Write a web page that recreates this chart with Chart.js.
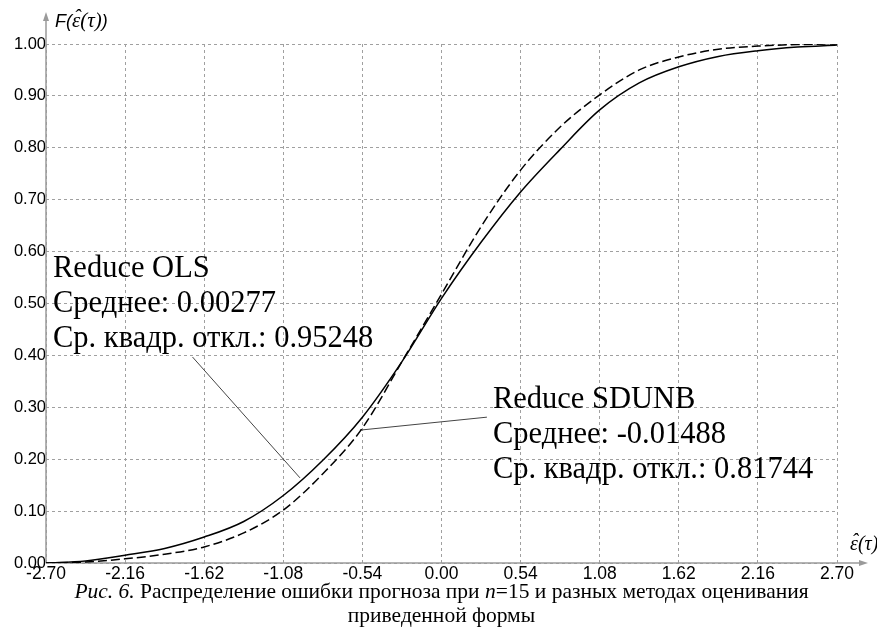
<!DOCTYPE html>
<html>
<head>
<meta charset="utf-8">
<script src="https://cdn.jsdelivr.net/npm/chart.js@4.4.1/dist/chart.umd.min.js"></script>
<style>
    html, body { margin: 0; padding: 0; background: #fff; }
    #wrap { width: 877px; height: 639px; position: relative; }
</style>
</head>
<body>
<div id="wrap"><canvas id="cdf_chart"></canvas></div>
<script>
// values
const xPoints = [-2.70, -2.43, -2.16, -1.89, -1.62, -1.35, -1.08, -0.81, -0.54, -0.27, 0.00,
                 0.27, 0.54, 0.81, 1.08, 1.35, 1.62, 1.89, 2.16, 2.43, 2.70];
const olsF   = [0.000, 0.004, 0.015, 0.028, 0.050, 0.080, 0.130, 0.198, 0.281, 0.388, 0.510,
                0.618, 0.715, 0.797, 0.873, 0.925, 0.956, 0.976, 0.987, 0.994, 0.998];
const sdunbF = [0.000, 0.002, 0.008, 0.017, 0.031, 0.058, 0.102, 0.172, 0.260, 0.388, 0.518,
                0.648, 0.757, 0.840, 0.902, 0.950, 0.975, 0.990, 0.996, 0.999, 1.000];

const xTicks = [-2.70, -2.16, -1.62, -1.08, -0.54, 0.00, 0.54, 1.08, 1.62, 2.16, 2.70];
const yTicks = [0.0, 0.1, 0.2, 0.3, 0.4, 0.5, 0.6, 0.7, 0.8, 0.9, 1.0];

// leader lines: label -> curve
const olsLeaderX = [-1.70, -0.966];
const olsLeaderY = [0.397, 0.164];
const sdunbLeaderX = [-0.557, 0.310];
const sdunbLeaderY = [0.256, 0.281];

// notes (text + anchor of first baseline, in data units)
const olsNote = ['Reduce OLS', 'Среднее: 0.00277', 'Ср. квадр. откл.: 0.95248'];
const olsNoteAt = [-2.652, 0.551];
const sdunbNote = ['Reduce SDUNB', 'Среднее: -0.01488', 'Ср. квадр. откл.: 0.81744'];
const sdunbNoteAt = [0.351, 0.299];

const caption1 = [['Рис. 6.', 'italic'], [' Распределение ошибки прогноза при ', ''], ['n', 'italic'], ['=15 и разных методах оценивания', '']];
const caption2 = 'приведенной формы';

function pts(xs, ys) {
    return xs.map(function (x, i) { return { x: x, y: ys[i] }; });
}

const AXIS = '#9a9a9a';
const SERIF = "'Liberation Serif', 'Times New Roman', serif";
const SANS = "'Liberation Sans', Arial, sans-serif";

// draws "ε̂(τ)" with a hat put on by hand, returns end x
function epsHat(c, x, y, size) {
    c.font = 'italic ' + size + 'px ' + SERIF;
    c.fillText('ε', x, y);
    let w = c.measureText('ε').width;
    let hw = c.measureText('ˆ').width;
    c.fillText('ˆ', x + w / 2 - hw / 2 + 1, y - size * 0.12);
    c.fillText('(τ)', x + w, y);
    return x + w + c.measureText('(τ)').width;
}

const decor = {
    id: 'decor',
    beforeDatasetsDraw(chart) {
        const ctx = chart.ctx;
        const a = chart.chartArea;
        const x0 = a.left, y0 = a.bottom;
        ctx.save();
        ctx.strokeStyle = AXIS;
        ctx.fillStyle = AXIS;
        ctx.lineWidth = 1.5;
        // y axis + arrow
        ctx.beginPath();
        ctx.moveTo(x0, y0);
        ctx.lineTo(x0, 18);
        ctx.stroke();
        ctx.beginPath();
        ctx.moveTo(x0, 12);
        ctx.lineTo(x0 - 3, 21);
        ctx.lineTo(x0 + 3, 21);
        ctx.closePath();
        ctx.fill();
        // x axis + arrow
        ctx.beginPath();
        ctx.moveTo(x0, y0);
        ctx.lineTo(862, y0);
        ctx.stroke();
        ctx.beginPath();
        ctx.moveTo(868, y0);
        ctx.lineTo(859, y0 - 3);
        ctx.lineTo(859, y0 + 3);
        ctx.closePath();
        ctx.fill();
        ctx.restore();
    },
    afterDatasetsDraw(chart) {
        const ctx = chart.ctx;
        const a = chart.chartArea;
        const xs = chart.scales.x, ys = chart.scales.y;
        ctx.save();
        ctx.fillStyle = '#000';
        ctx.textAlign = 'left';
        ctx.textBaseline = 'alphabetic';

        // axis titles
        ctx.font = 'italic 18px ' + SANS;
        ctx.fillText('F(', a.left + 9, 27);
        let ex = epsHat(ctx, a.left + 9 + ctx.measureText('F(').width, 27, 21);
        ctx.font = 'italic 18px ' + SANS;
        ctx.fillText(')', ex, 27);
        epsHat(ctx, 850, a.bottom - 13, 20);

        // notes
        ctx.font = '30.5px ' + SERIF;
        [[olsNote, olsNoteAt], [sdunbNote, sdunbNoteAt]].forEach(function (n) {
            const px = xs.getPixelForValue(n[1][0]);
            const py = ys.getPixelForValue(n[1][1]);
            n[0].forEach(function (line, i) {
                ctx.fillText(line, px, py + i * 35);
            });
        });

        // caption
        const cx = (a.left + a.right) / 2;
        const cf = '21.5px ' + SERIF;
        let total = 0;
        caption1.forEach(function (p) {
            ctx.font = (p[1] ? p[1] + ' ' : '') + cf;
            total += ctx.measureText(p[0]).width;
        });
        let x = cx - total / 2;
        caption1.forEach(function (p) {
            ctx.font = (p[1] ? p[1] + ' ' : '') + cf;
            ctx.fillText(p[0], x, a.bottom + 35);
            x += ctx.measureText(p[0]).width;
        });
        ctx.font = cf;
        ctx.textAlign = 'center';
        ctx.fillText(caption2, cx, a.bottom + 59);
        ctx.restore();
    }
};

let ctx = document.getElementById('cdf_chart');

var cdf_chart = new Chart(ctx, {
    type: 'scatter',
    plugins: [decor],
    data: {
        datasets: [{
            label: 'Reduce OLS',
            data: pts(xPoints, olsF),
            showLine: true,
            borderColor: '#000',
            borderWidth: 1.5,
            pointRadius: 0,
            cubicInterpolationMode: 'monotone'
        }, {
            label: 'Reduce SDUNB',
            data: pts(xPoints, sdunbF),
            showLine: true,
            borderColor: '#000',
            borderWidth: 1.5,
            borderDash: [9, 4],
            pointRadius: 0,
            cubicInterpolationMode: 'monotone'
        }, {
            label: 'ols leader',
            data: pts(olsLeaderX, olsLeaderY),
            showLine: true,
            borderColor: '#444',
            borderWidth: 1,
            pointRadius: 0
        }, {
            label: 'sdunb leader',
            data: pts(sdunbLeaderX, sdunbLeaderY),
            showLine: true,
            borderColor: '#444',
            borderWidth: 1,
            pointRadius: 0
        }]
    },
    options: {
        responsive: true,
        maintainAspectRatio: false,
        animation: false,
        layout: { padding: { top: 44, right: 40, left: 0, bottom: 0 } },
        plugins: {
            legend: { display: false },
            tooltip: { enabled: false }
        },
        scales: {
            x: {
                type: 'linear',
                min: -2.7,
                max: 2.7,
                afterBuildTicks: function (s) { s.ticks = xTicks.map(function (v) { return { value: v }; }); },
                afterFit: function (s) { s.height = 76; },
                ticks: {
                    callback: function (v) { return Number(v).toFixed(2); },
                    color: '#000',
                    font: { family: SANS, size: 17.5 },
                    padding: 1,
                    maxRotation: 0,
                    autoSkip: false
                },
                grid: { color: '#a0a0a0', lineWidth: 1, drawTicks: false },
                border: { display: false, dash: [3, 3] }
            },
            y: {
                type: 'linear',
                min: 0,
                max: 1,
                afterBuildTicks: function (s) { s.ticks = yTicks.map(function (v) { return { value: v }; }); },
                afterFit: function (s) { s.width = 46; },
                ticks: {
                    callback: function (v) { return Number(v).toFixed(2); },
                    color: '#000',
                    font: { family: SANS, size: 16.5 },
                    padding: 0,
                    autoSkip: false
                },
                grid: { color: '#a0a0a0', lineWidth: 1, drawTicks: false },
                border: { display: false, dash: [3, 3] }
            }
        }
    }
});
</script>
</body>
</html>
